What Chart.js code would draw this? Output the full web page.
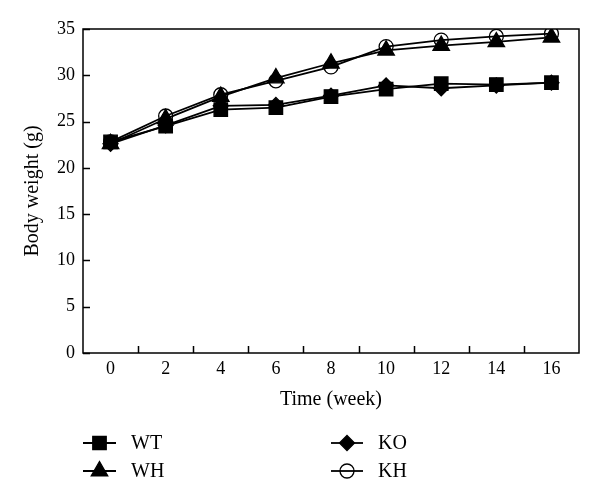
<!DOCTYPE html>
<html>
<head>
<meta charset="utf-8">
<script src="https://cdn.jsdelivr.net/npm/chart.js@4/dist/chart.umd.min.js"></script>
<style>
  html, body { margin: 0; padding: 0; background: #fff; }
  #wrap { width: 600px; height: 504px; }
</style>
</head>
<body>
<div id="wrap"><canvas id="bw" width="600" height="504"></canvas></div>
<script>
// body weight over time
const weeks = ['0', '2', '4', '6', '8', '10', '12', '14', '16'];
const wtValues = [22.8, 24.5, 26.3, 26.5, 27.7, 28.5, 29.1, 29.0, 29.2];
const whValues = [22.6, 25.3, 27.7, 29.7, 31.3, 32.7, 33.2, 33.6, 34.1];
const koValues = [22.6, 24.6, 26.7, 26.8, 27.8, 28.9, 28.6, 28.9, 29.2];
const khValues = [22.8, 25.6, 27.9, 29.4, 30.9, 33.1, 33.8, 34.2, 34.5];
const yTicks = [0, 5, 10, 15, 20, 25, 30, 35];

const SERIF = "'Liberation Serif', 'Times New Roman', serif";

function series(label, data, style, radius, fill) {
    return {
        label, data,
        borderColor: '#000',
        borderWidth: 1.8,
        pointStyle: style,
        pointRadius: radius,
        pointHoverRadius: radius,
        pointBorderColor: '#000',
        pointBorderWidth: 1.3,
        pointBackgroundColor: fill,
        tension: 0,
        fill: false
    };
}

// frame on all four sides + tick marks pointing inward
const framePlugin = {
    id: 'frame',
    afterDatasetsDraw(chart) {
        const { ctx, chartArea: a, scales: { x, y } } = chart;
        ctx.save();
        ctx.strokeStyle = '#000';
        ctx.lineWidth = 1.5;
        ctx.strokeRect(a.left, a.top, a.right - a.left, a.bottom - a.top);
        ctx.beginPath();
        for (let i = 0; i < weeks.length - 1; i++) {
            const px = Math.round((x.getPixelForTick(i) + x.getPixelForTick(i + 1)) / 2) + 0.5;
            ctx.moveTo(px, a.bottom);
            ctx.lineTo(px, a.bottom - 7);
        }
        yTicks.forEach(v => {
            const py = Math.round(y.getPixelForValue(v)) + 0.5;
            ctx.moveTo(a.left, py);
            ctx.lineTo(a.left + 7, py);
        });
        ctx.stroke();
        ctx.restore();
    }
};

// two-column legend with line-marker-line samples
const legendPlugin = {
    id: 'boxLegend',
    afterDraw(chart) {
        const ctx = chart.ctx;
        const cols = [{ x0: 83, x1: 116, tx: 131 }, { x0: 331, x1: 363, tx: 378 }];
        const rows = [443, 471];
        ctx.save();
        chart.data.datasets.forEach((ds, i) => {
            const c = cols[Math.floor(i / 2)];
            const yy = rows[i % 2];
            const mx = (c.x0 + c.x1) / 2;
            ctx.strokeStyle = '#000';
            ctx.lineWidth = 1.8;
            ctx.beginPath();
            ctx.moveTo(c.x0, yy);
            ctx.lineTo(c.x1, yy);
            ctx.stroke();
            ctx.fillStyle = ds.pointBackgroundColor;
            ctx.lineWidth = ds.pointBorderWidth;
            Chart.helpers.drawPoint(ctx, {
                pointStyle: ds.pointStyle, rotation: 0,
                radius: ds.pointRadius, borderWidth: ds.pointBorderWidth
            }, mx, yy);
            ctx.fillStyle = '#000';
            ctx.font = '20px ' + SERIF;
            ctx.textBaseline = 'middle';
            ctx.textAlign = 'left';
            ctx.fillText(ds.label, c.tx, yy + 1);
        });
        ctx.restore();
    }
};

new Chart(document.getElementById('bw'), {
    type: 'line',
    data: {
        labels: weeks,
        datasets: [
            series('WT', wtValues, 'rect', 9.5, '#000'),
            series('WH', whValues, 'triangle', 9.5, '#000'),
            series('KO', koValues, 'rectRot', 7.5, '#000'),
            series('KH', khValues, 'circle', 7, 'rgba(0,0,0,0)')
        ]
    },
    options: {
        responsive: false,
        animation: false,
        events: [],
        layout: { padding: { left: 20, top: 29, right: 21, bottom: 90 } },
        plugins: { legend: { display: false }, tooltip: { enabled: false } },
        scales: {
            x: {
                type: 'category',
                offset: true,
                grid: { display: false, drawTicks: false },
                border: { display: false },
                ticks: { color: '#000', padding: 5, font: { family: SERIF, size: 18 }, maxRotation: 0 },
                title: { display: true, text: 'Time (week)', color: '#000', font: { family: SERIF, size: 20 }, padding: { top: 4, bottom: 2 } },
                afterFit(scale) { scale.height = 61; }
            },
            y: {
                min: 0, max: 35,
                afterBuildTicks(scale) { scale.ticks = yTicks.map(v => ({ value: v })); },
                grid: { display: false, drawTicks: false },
                border: { display: false },
                ticks: { color: '#000', padding: 8, font: { family: SERIF, size: 18 } },
                title: { display: true, text: 'Body weight (g)', color: '#000', font: { family: SERIF, size: 20 }, padding: { top: 1, bottom: 0 } },
                afterFit(scale) { scale.width = 63; }
            }
        }
    },
    plugins: [framePlugin, legendPlugin]
});
</script>
</body>
</html>
